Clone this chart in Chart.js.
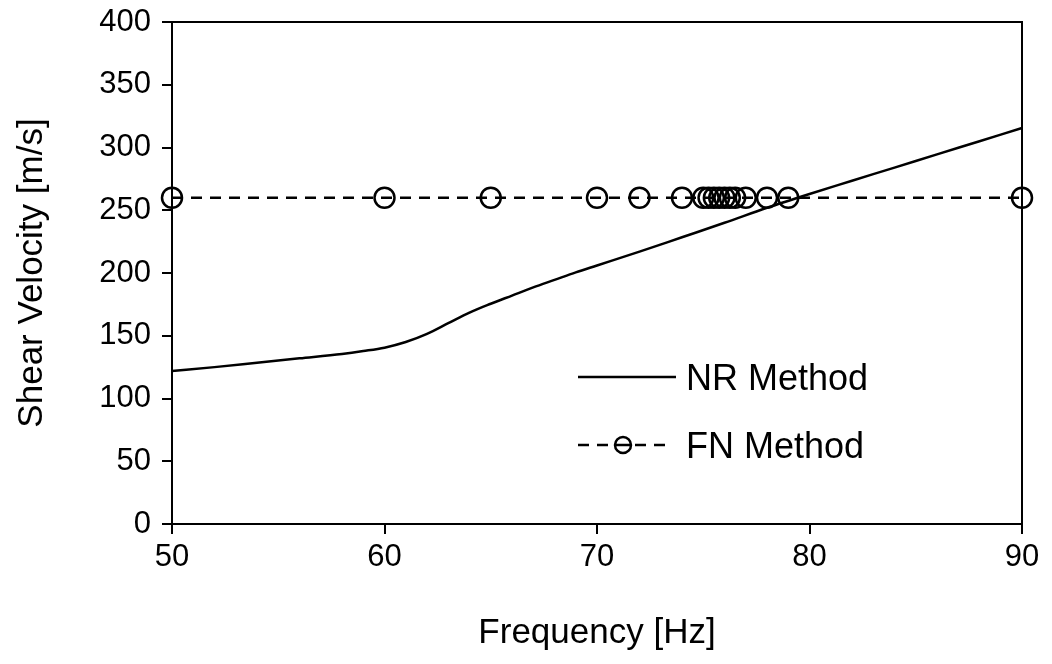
<!DOCTYPE html>
<html>
<head>
<meta charset="utf-8">
<script src="https://cdn.jsdelivr.net/npm/chart.js@4.4.1/dist/chart.umd.min.js"></script>
<style>
html,body{margin:0;padding:0;background:#fff;}
#wrap{width:1052px;height:664px;}
</style>
</head>
<body>
<div id="wrap"><canvas id="chart" width="1052" height="664"></canvas></div>
<script>
// data
const nrFreq = [50,52,54,56,58,59,60,61,62,63,64,65,66,67,68,69,70,72,74,76,78,80,82,84,86,88,90];
const nrVel  = [122,125,128.5,132,135.5,137.8,140.5,145,151.5,160,168.5,175.5,182,188.5,194.5,200.5,206,217,228.5,240,252,263,273.5,284,294.5,305,315.5];
const fnFreq = [50,60,65,70,72,74,75,75.25,75.5,75.75,76,76.25,76.5,77,78,79,90];
const fnVel  = [260,260,260,260,260,260,260,260,260,260,260,260,260,260,260,260,260];
const xTicks = [50,60,70,80,90];
const yTicks = [0,50,100,150,200,250,300,350,400];

const FONT = '"Liberation Sans", Arial, sans-serif';
const toXY = (xs, ys) => xs.map((x,i) => ({x:x, y:ys[i]}));

// box around the plot area
const frame = {
  id:'frame',
  afterDraw(chart){
    const {ctx, chartArea:a} = chart;
    ctx.save();
    ctx.strokeStyle = '#000'; ctx.lineWidth = 2;
    ctx.strokeRect(a.left, a.top, a.right-a.left, a.bottom-a.top);
    ctx.restore();
  }
};

// legend drawn inside the plot, like the original
const innerLegend = {
  id:'innerLegend',
  afterDraw(chart){
    const ctx = chart.ctx;
    const rows = [{y:377, x0:578, x1:676}, {y:445, x0:578, x1:668}];
    ctx.save();
    chart.data.datasets.forEach((ds,i) => {
      const r = rows[i];
      ctx.strokeStyle = ds.borderColor; ctx.lineWidth = ds.borderWidth;
      ctx.setLineDash(ds.borderDash || []);
      ctx.beginPath(); ctx.moveTo(r.x0, r.y); ctx.lineTo(r.x1, r.y); ctx.stroke();
      ctx.setLineDash([]);
      if (ds.pointRadius > 0){
        const cx = (r.x0+r.x1)/2;
        ctx.beginPath(); ctx.arc(cx, r.y, 8, 0, Math.PI*2);
        ctx.fillStyle = '#fff'; ctx.fill();
        ctx.lineWidth = ds.pointBorderWidth; ctx.stroke();
        ctx.beginPath(); ctx.moveTo(cx-8, r.y); ctx.lineTo(cx+8, r.y); ctx.stroke();
      }
      ctx.fillStyle = '#000'; ctx.font = '36px ' + FONT;
      ctx.textBaseline = 'middle'; ctx.textAlign = 'left';
      ctx.fillText(ds.label, 686, r.y + 3);
    });
    ctx.restore();
  }
};

new Chart(document.getElementById('chart'), {
  type:'line',
  data:{
    datasets:[
      { label:'NR Method', data:toXY(nrFreq, nrVel), borderColor:'#000', borderWidth:2.5,
        pointRadius:0, cubicInterpolationMode:'monotone', fill:false },
      { label:'FN Method', data:toXY(fnFreq, fnVel), borderColor:'#000', borderWidth:2.5,
        borderDash:[11,8], pointRadius:10, pointHoverRadius:10, pointStyle:'circle',
        pointBackgroundColor:'rgba(0,0,0,0)', pointBorderColor:'#000', pointBorderWidth:2.5, fill:false }
    ]
  },
  options:{
    responsive:false, animation:false, devicePixelRatio:1,
    clip:false,
    layout:{ padding:{ top:22, right:30, left:0, bottom:0 } },
    plugins:{ legend:{ display:false }, tooltip:{ enabled:false } },
    scales:{
      x:{
        type:'linear', min:50, max:90,
        afterBuildTicks: s => { s.ticks = xTicks.map(v => ({value:v})); },
        afterFit: s => { s.height = 140; s.paddingLeft = 0; s.paddingRight = 0; },
        border:{ display:true, color:'#000', width:2 },
        grid:{ drawOnChartArea:false, drawTicks:true, tickLength:10, color:'#000', lineWidth:2 },
        ticks:{ color:'#000', font:{ family:FONT, size:31 }, padding:5, maxRotation:0 },
        title:{ display:true, text:'Frequency [Hz]', color:'#000', font:{ family:FONT, size:35 }, padding:{ bottom:10 } }
      },
      y:{
        type:'linear', min:0, max:400,
        afterBuildTicks: s => { s.ticks = yTicks.map(v => ({value:v})); },
        afterFit: s => { s.width = 172; s.paddingTop = 0; s.paddingBottom = 0; },
        border:{ display:true, color:'#000', width:2 },
        grid:{ drawOnChartArea:false, drawTicks:true, tickLength:10, color:'#000', lineWidth:2 },
        ticks:{ color:'#000', font:{ family:FONT, size:31 }, padding:11 },
        title:{ display:true, text:'Shear Velocity [m/s]', color:'#000', font:{ family:FONT, size:35 }, padding:{ top:11 } }
      }
    }
  },
  plugins:[frame, innerLegend]
});
</script>
</body>
</html>
